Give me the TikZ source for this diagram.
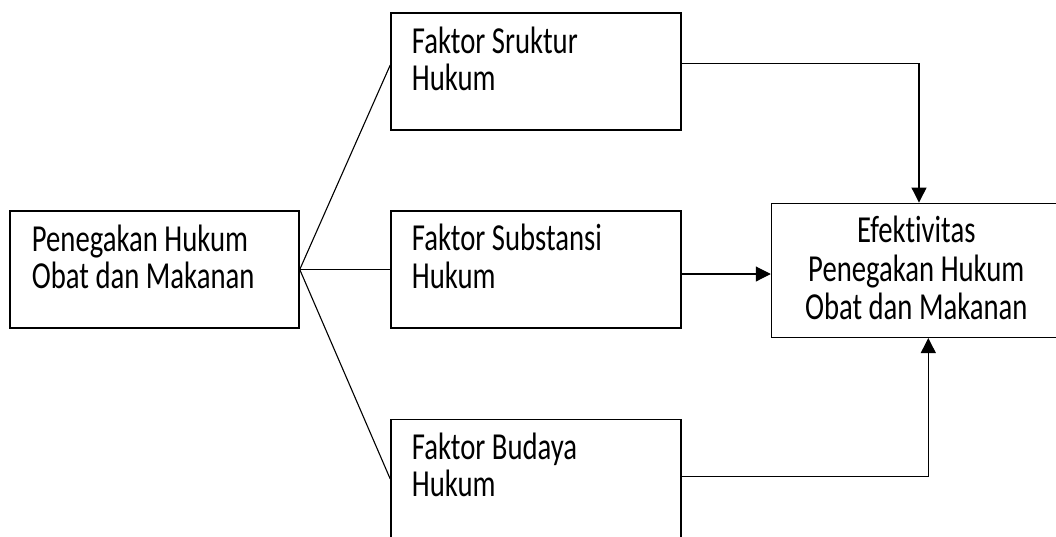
\documentclass[tikz,border=0pt]{standalone}
\usepackage{fontspec}
\setmainfont{Carlito}[Ligatures={NoCommon}]
\usetikzlibrary{arrows.meta,calc}
\newcommand{\stretchline}[1]{\hbox{\scalebox{1}[1.33]{#1}}}
\newcommand{\ctrline}[1]{\hbox to 300pt{\hfil\scalebox{1}[1.33]{#1}\hfil}}
\newcommand{\twolines}[2]{\vtop{\baselineskip=37.5pt\relax\lineskiplimit=-100pt\relax\stretchline{#1}\stretchline{#2}}}
\newcommand{\threelines}[3]{\vtop{\baselineskip=38.3pt\relax\lineskiplimit=-100pt\relax\ctrline{#1}\ctrline{#2}\ctrline{#3}}}
\begin{document}
\begin{tikzpicture}[x=1pt,y=-1pt,
  box/.style={draw, line width=1.5pt, inner sep=0pt},
  txt/.style={inner sep=0pt, anchor=base west, font=\fontsize{28.7}{38}\selectfont},
  ctxt/.style={inner sep=0pt, anchor=base, font=\fontsize{28.7}{38}\selectfont},
  conn/.style={line width=1.1pt},
  arr/.style={line width=1.1pt, -{Triangle[length=15pt,width=15pt]}}]
\fill[white] (0,0) rectangle (1056,536);
\useasboundingbox (0,0) rectangle (1056,536);
\clip (0,0) rectangle (1056,536);
% boxes
\node[box, minimum width=289pt, minimum height=117pt] (src) at (154.5,269.5) {};
\node[box, minimum width=290pt, minimum height=117pt] (top) at (536,71.5) {};
\node[box, minimum width=290pt, minimum height=117pt] (mid) at (536,269.5) {};
\node[box, minimum width=290pt, minimum height=124pt] (bot) at (536,481.3) {};
\node[box, minimum width=300pt, minimum height=134pt] (res) at (921.5,270.3) {};
% texts
\node[txt] (srct) at (31.7,251) {\twolines{Penegakan Hukum}{Obat dan Makanan}};
\node[txt] (topt) at (411.7,53.3) {\twolines{Faktor Sruktur}{Hukum}};
\node[txt] (midt) at (411.7,250.7) {\twolines{Faktor Substansi}{Hukum}};
\node[txt] (bott) at (411.7,459) {\twolines{Faktor Budaya}{Hukum}};
\node[ctxt] (rest) at (916.3,242.7) {\threelines{Efektivitas}{Penegakan Hukum}{Obat dan Makanan}};
% connectors
\draw[conn] (src.east) -- ([yshift=6.5pt]top.west);
\draw[conn] (src.east) -- (mid.west);
\draw[conn] (src.east) -- ([yshift=2.3pt]bot.west);
\draw[arr] ([yshift=8pt]top.east) -| ([xshift=-2.5pt]res.north);
\coordinate (m1) at ([yshift=-4.5pt]mid.east);
\draw[arr] (m1) -- (m1 -| res.west);
\draw[arr] ([yshift=4.6pt]bot.east) -| ([xshift=6.8pt]res.south);
\end{tikzpicture}
\end{document}
